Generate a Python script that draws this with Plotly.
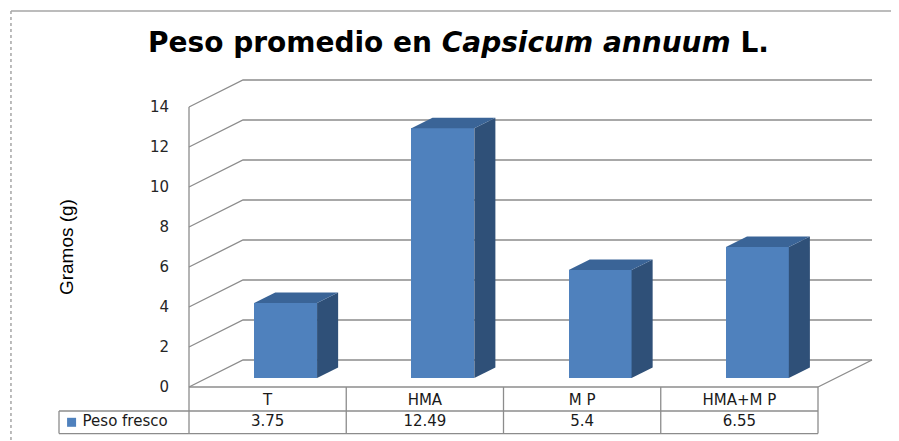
import plotly.graph_objects as go

# ---- data ----
categories = ["T", "HMA", "M P", "HMA+M P"]
peso_fresco = [3.75, 12.49, 5.4, 6.55]
series_name = "Peso fresco"
y_ticks = [0, 2, 4, 6, 8, 10, 12, 14]
title_text = "Peso promedio en <i>Capsicum annuum</i> L."
y_title = "Gramos (g)"

# ---- pseudo-3D geometry (in axis units) ----
DX, DY = 0.3434, 1.35          # full depth of the floor / walls
FRONT_F = 1 / 3                # bar front face depth fraction
BAR_W = 0.40
BDX, BDY = 0.134, 0.527        # bar depth
bx_shift, by_shift = FRONT_F * DX, FRONT_F * DY
X0, X1 = -0.5, len(categories) - 0.5
ROW_TOP, ROW_MID, ROW_BOT = 0.0, -1.2, -2.33
LEG_LEFT = -1.3267

FRONT = "#4f81bd"
SIDE = "#2f5078"
TOP = "#3a6497"
GRID = "#8c8c8c"

fig = go.Figure()

idx = list(range(len(categories)))

# front faces of bars
fig.add_trace(go.Bar(
    x=idx, y=peso_fresco, base=by_shift, width=BAR_W,
    offset=-BAR_W / 2 + bx_shift,
    marker=dict(color=FRONT, line=dict(width=0)),
    showlegend=False, hoverinfo="skip"))

# side + top faces
for i, v in zip(idx, peso_fresco):
    xl = i - BAR_W / 2 + bx_shift
    xr = xl + BAR_W
    yb = by_shift
    yt = by_shift + v
    fig.add_trace(go.Scatter(
        x=[xr, xr, xr + BDX, xr + BDX, xr], y=[yb, yt, yt + BDY, yb + BDY, yb],
        fill="toself", fillcolor=SIDE, mode="lines", line=dict(width=0),
        showlegend=False, hoverinfo="skip"))
    fig.add_trace(go.Scatter(
        x=[xl, xr, xr + BDX, xl + BDX, xl], y=[yt, yt, yt + BDY, yt + BDY, yt],
        fill="toself", fillcolor=TOP, mode="lines", line=dict(width=0),
        showlegend=False, hoverinfo="skip"))

shapes = []
# perspective grid lines (walls)
for t in y_ticks:
    shapes.append(dict(type="path", xref="x", yref="y", layer="below",
                       path=f"M {X0},{t} L {X0 + DX},{t + DY} L {X1 + DX},{t + DY}",
                       line=dict(color=GRID, width=1.3)))
# floor right edge
shapes.append(dict(type="line", xref="x", yref="y", layer="below",
                   x0=X1, y0=ROW_TOP, x1=X1 + DX, y1=DY, line=dict(color=GRID, width=1.3)))
# vertical axis line continuing into the table
shapes.append(dict(type="line", xref="x", yref="y",
                   x0=X0, y0=y_ticks[-1], x1=X0, y1=ROW_BOT, line=dict(color=GRID, width=1.3)))
# table lines
shapes.append(dict(type="line", xref="x", yref="y", x0=X0, y0=ROW_TOP, x1=X1, y1=ROW_TOP,
                   line=dict(color=GRID, width=1.3)))
shapes.append(dict(type="line", xref="x", yref="y", x0=LEG_LEFT, y0=ROW_MID, x1=X1, y1=ROW_MID,
                   line=dict(color=GRID, width=1.3)))
shapes.append(dict(type="line", xref="x", yref="y", x0=LEG_LEFT, y0=ROW_BOT, x1=X1, y1=ROW_BOT,
                   line=dict(color=GRID, width=1.3)))
shapes.append(dict(type="line", xref="x", yref="y", x0=LEG_LEFT, y0=ROW_MID, x1=LEG_LEFT, y1=ROW_BOT,
                   line=dict(color=GRID, width=1.3)))
for i in idx:
    shapes.append(dict(type="line", xref="x", yref="y", x0=i + 0.5, y0=ROW_TOP, x1=i + 0.5, y1=ROW_BOT,
                       line=dict(color=GRID, width=1.3)))
# outer chart border (top solid, left dotted)
shapes.append(dict(type="line", xref="paper", yref="paper", x0=-0.0342, y0=1.1612, x1=1.2, y1=1.1612,
                   line=dict(color="#a6a6a6", width=1.5)))
shapes.append(dict(type="line", xref="paper", yref="paper", x0=-0.0342, y0=1.1612, x1=-0.0342, y1=-0.2,
                   line=dict(color="#a6a6a6", width=1.5, dash="dot")))

# table text
row1_y = (ROW_TOP + ROW_MID) / 2 - 0.1
row2_y = (ROW_MID + ROW_BOT) / 2
fig.add_trace(go.Scatter(
    x=idx, y=[row1_y] * len(idx), mode="text", text=categories,
    textfont=dict(family="DejaVu Sans", size=15, color="#1a1a1a"),
    showlegend=False, hoverinfo="skip"))
fig.add_trace(go.Scatter(
    x=idx, y=[row2_y] * len(idx), mode="text", text=[str(v) for v in peso_fresco],
    textfont=dict(family="DejaVu Sans", size=15, color="#1a1a1a"),
    showlegend=False, hoverinfo="skip"))
# legend key in table
fig.add_trace(go.Scatter(
    x=[LEG_LEFT + 0.08], y=[row2_y], mode="markers",
    marker=dict(symbol="square", size=9, color=FRONT),
    showlegend=False, hoverinfo="skip"))
fig.add_trace(go.Scatter(
    x=[LEG_LEFT + 0.15], y=[row2_y], mode="text", text=[series_name],
    textposition="middle right",
    textfont=dict(family="DejaVu Sans", size=15, color="#1a1a1a"),
    showlegend=False, hoverinfo="skip"))

fig.update_layout(
    width=891, height=433, autosize=False,
    margin=dict(l=32, r=10, t=62, b=5),
    paper_bgcolor="white", plot_bgcolor="white",
    title=dict(text=title_text, x=0.5056, xanchor="center", y=0.9215, yanchor="middle",
               font=dict(family="DejaVu Sans", size=28, color="black", weight="bold")),
    xaxis=dict(range=[-1.4475, 3.9515], visible=False, fixedrange=True),
    yaxis=dict(range=[-2.45, 15.85], tickvals=y_ticks, showgrid=False, zeroline=False,
               showline=False, anchor="free", position=0.1755, ticks="outside", ticklen=17,
               tickcolor="rgba(0,0,0,0)",
               tickfont=dict(family="DejaVu Sans", size=15, color="#262626")),
    shapes=shapes,
    annotations=[dict(text=y_title, xref="paper", yref="paper", x=0.0306, y=0.516,
                      textangle=-90, showarrow=False, xanchor="center", yanchor="middle",
                      font=dict(family="Liberation Sans", size=19, color="black"))],
    bargap=0,
)

fig.write_html("out.html")
